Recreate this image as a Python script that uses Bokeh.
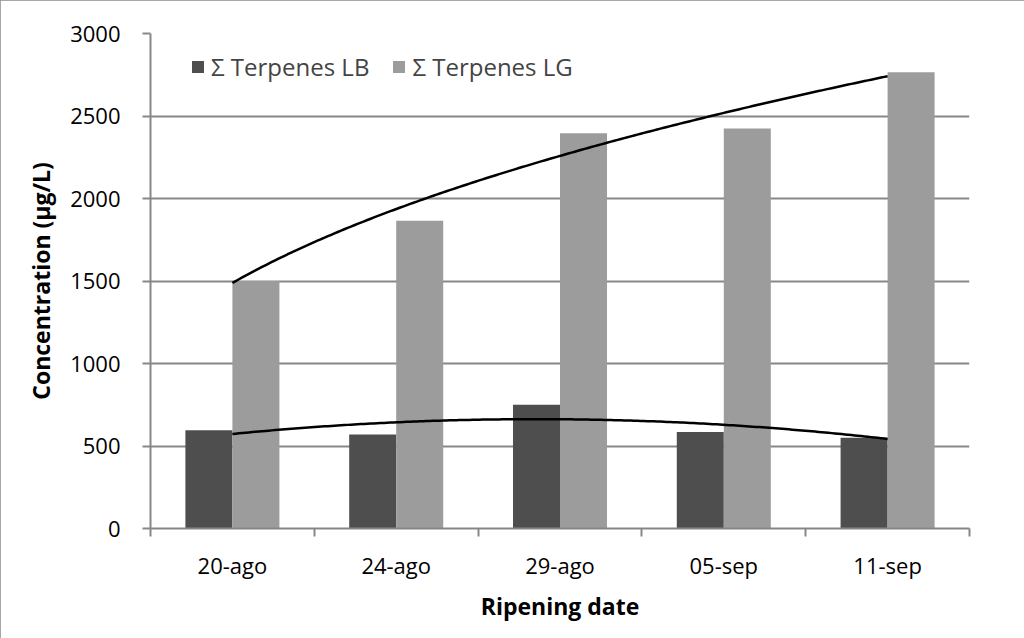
import numpy as np
from bokeh.plotting import figure
from bokeh.models import FixedTicker, ColumnDataSource, Legend, LegendItem
from bokeh.embed import file_html
from bokeh.resources import INLINE

categories = ["20-ago", "24-ago", "29-ago", "05-sep", "11-sep"]
terpenes_lb = [595, 570, 750, 585, 550]
terpenes_lg = [1500, 1865, 2395, 2425, 2765]
y_ticks = [0, 500, 1000, 1500, 2000, 2500, 3000]

FONT = "Open Sans"
GRID = "#878787"

xs = np.arange(1, len(categories) + 1, dtype=float)
bar_w = 0.287

p = figure(width=1024, height=638, output_backend="svg", toolbar_location=None,
           x_range=(0.5, len(categories) + 0.5), y_range=(0, 3000),
           min_border_left=150, min_border_right=55, min_border_top=33, min_border_bottom=110)
p.styles = {"outline": "2px solid #8a8a8a", "outline-offset": "-2px"}
p.outline_line_color = None
p.background_fill_color = "white"
p.border_fill_color = "white"

src = ColumnDataSource(dict(x_lb=xs - bar_w / 2, x_lg=xs + bar_w / 2, lb=terpenes_lb, lg=terpenes_lg))
r_lb = p.vbar(x="x_lb", top="lb", bottom=0, width=bar_w, source=src,
              fill_color="#4e4e4e", line_color=None)
r_lg = p.vbar(x="x_lg", top="lg", bottom=0, width=bar_w, source=src,
              fill_color="#9c9c9c", line_color=None)

# Trend lines fitted to the data (polynomial order 2 for LB, power for LG)
xf = np.linspace(1, len(categories), 200)
c2 = np.polyfit(xs, terpenes_lb, 2)
p.line(xf, np.polyval(c2, xf), line_color="black", line_width=2.5)
b, lna = np.polyfit(np.log(xs), np.log(terpenes_lg), 1)
p.line(xf, np.exp(lna) * xf ** b, line_color="black", line_width=2.5)

# Axes
p.xaxis.ticker = FixedTicker(ticks=list(xs), minor_ticks=list(np.arange(0.5, len(categories) + 1, 1.0)))
p.xaxis.major_label_overrides = {float(i + 1): c for i, c in enumerate(categories)}
p.xaxis.major_label_overrides.update({i + 1: c for i, c in enumerate(categories)})
p.xaxis.major_tick_out = 0
p.xaxis.major_tick_in = 0
p.xaxis.minor_tick_out = 8
p.xaxis.minor_tick_in = 0
p.xaxis.minor_tick_line_color = GRID
p.xaxis.minor_tick_line_width = 2
p.xaxis.major_label_standoff = 13
p.xaxis.axis_label = "Ripening date"
p.xaxis.axis_label_standoff = 7

p.yaxis.ticker = FixedTicker(ticks=y_ticks)
p.yaxis.minor_tick_line_color = None
p.yaxis.major_tick_out = 8
p.yaxis.major_tick_in = 0
p.yaxis.major_label_standoff = 22
p.yaxis.axis_label = "Concentration (\u00b5g/L)"
p.yaxis.axis_label_standoff = 10

for ax in (p.xaxis[0], p.yaxis[0]):
    ax.axis_line_color = GRID
    ax.axis_line_width = 2
    ax.major_tick_line_color = GRID
    ax.major_tick_line_width = 2
    ax.major_label_text_font = FONT
    ax.major_label_text_font_size = "22px"
    ax.major_label_text_color = "black"
    ax.axis_label_text_font = FONT
    ax.axis_label_text_font_size = "23px"
    ax.axis_label_text_font_style = "bold"
    ax.axis_label_text_color = "black"

p.xgrid.grid_line_color = None
p.ygrid.ticker = FixedTicker(ticks=y_ticks)
p.ygrid.grid_line_color = GRID
p.ygrid.grid_line_width = 2

legend = Legend(items=[LegendItem(label="\u03a3 Terpenes LB", renderers=[r_lb]),
                       LegendItem(label="\u03a3 Terpenes LG", renderers=[r_lg])],
                orientation="horizontal", location=(40, 445),
                padding=0, margin=0, spacing=22, label_standoff=6,
                glyph_width=15, glyph_height=15,
                label_text_font=FONT, label_text_font_size="24px",
                background_fill_alpha=0, border_line_color=None)
p.add_layout(legend)

open("out.html", "w").write(file_html(p, INLINE))
